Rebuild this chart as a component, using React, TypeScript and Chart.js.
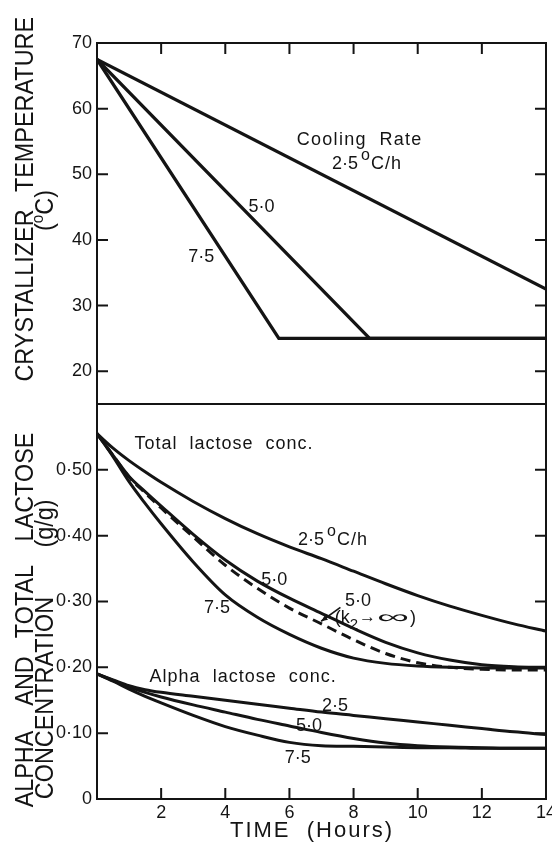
import React, { useEffect, useRef } from 'react';
import { Chart, registerables } from 'chart.js';

Chart.register(...registerables);

const INK = '#141414';
const FONT = '"Liberation Sans", Arial, Helvetica, sans-serif';

// ---------- Top panel: crystallizer temperature (°C) ----------
const tempHours25 = [0, 14];
const temp25 = [67.5, 32.5];
const tempHours50 = [0, 8.5, 14];
const temp50 = [67.5, 25, 25];
const tempHours75 = [0, 5.67, 14];
const temp75 = [67.5, 25, 25];

// ---------- Bottom panel: concentrations (g/g) ----------
const concHours = [0, 0.5, 1, 1.5, 2, 3, 4, 5, 6, 7, 8, 9, 10, 11, 12, 13, 14];
const total25 = [0.555, 0.533, 0.514, 0.497, 0.481, 0.452, 0.426, 0.403, 0.383, 0.365, 0.346, 0.327, 0.309, 0.293, 0.279, 0.266, 0.255];
const total50 = [0.555, 0.522, 0.490, 0.467, 0.445, 0.402, 0.363, 0.331, 0.305, 0.282, 0.259, 0.238, 0.222, 0.211, 0.204, 0.201, 0.200];
const total50kInf = [0.555, 0.522, 0.489, 0.465, 0.442, 0.398, 0.355, 0.320, 0.290, 0.266, 0.242, 0.221, 0.207, 0.200, 0.197, 0.196, 0.196];
const total75 = [0.555, 0.520, 0.482, 0.449, 0.418, 0.360, 0.310, 0.276, 0.250, 0.229, 0.214, 0.206, 0.202, 0.200, 0.199, 0.199, 0.199];
const alpha25 = [0.190, 0.181, 0.172, 0.166, 0.162, 0.156, 0.150, 0.144, 0.138, 0.132, 0.127, 0.122, 0.117, 0.112, 0.107, 0.102, 0.098];
const alpha50 = [0.190, 0.180, 0.170, 0.162, 0.155, 0.143, 0.132, 0.121, 0.111, 0.101, 0.092, 0.085, 0.081, 0.079, 0.078, 0.077, 0.077];
const alpha75 = [0.190, 0.179, 0.167, 0.156, 0.146, 0.127, 0.110, 0.097, 0.086, 0.081, 0.080, 0.079, 0.078, 0.078, 0.077, 0.077, 0.077];

// ---------- Ticks ----------
const timeTicks = [0, 2, 4, 6, 8, 10, 12, 14];
const tempTicks = [20, 30, 40, 50, 60, 70];
const concTicks = [0, 0.1, 0.2, 0.3, 0.4, 0.5];
const concTickLabels = ['0', '0·10', '0·20', '0·30', '0·40', '0·50'];

type Piece = { s: string; size?: number; dy?: number; sx?: number; ls?: number; gap?: number };
type Note = { axis: 'yT' | 'yC'; t: number; v: number; align: 'left' | 'center'; pieces: Piece[] };

const degPieces = (n: string): Piece[] => [
  { s: n, gap: 3 },
  { s: 'o', size: 16, dy: -9, gap: 1 },
  { s: 'C/h', ls: 1 },
];

const NOTES: Note[] = [
  { axis: 'yT', t: 8.19, v: 54.45, align: 'center', pieces: [{ s: 'Cooling  Rate', ls: 1.3 }] },
  { axis: 'yT', t: 8.42, v: 50.8, align: 'center', pieces: degPieces('2·5') },
  { axis: 'yT', t: 5.13, v: 44.2, align: 'center', pieces: [{ s: '5·0' }] },
  { axis: 'yT', t: 3.25, v: 36.6, align: 'center', pieces: [{ s: '7·5' }] },
  { axis: 'yC', t: 1.17, v: 0.532, align: 'left', pieces: [{ s: 'Total  lactose  conc.', ls: 1 }] },
  { axis: 'yC', t: 7.36, v: 0.386, align: 'center', pieces: degPieces('2·5') },
  { axis: 'yC', t: 5.53, v: 0.325, align: 'center', pieces: [{ s: '5·0' }] },
  { axis: 'yC', t: 8.14, v: 0.293, align: 'center', pieces: [{ s: '5·0' }] },
  {
    axis: 'yC', t: 7.41, v: 0.267, align: 'left', pieces: [
      { s: '(k', gap: 0 },
      { s: '2', size: 15, dy: 6, gap: 1 },
      { s: '→', size: 17, dy: -1, gap: 1 },
      { s: '∞', sx: 2.5, gap: 1 },
      { s: ')' },
    ],
  },
  { axis: 'yC', t: 3.74, v: 0.282, align: 'center', pieces: [{ s: '7·5' }] },
  { axis: 'yC', t: 1.64, v: 0.178, align: 'left', pieces: [{ s: 'Alpha  lactose  conc.', ls: 1 }] },
  { axis: 'yC', t: 7.42, v: 0.134, align: 'center', pieces: [{ s: '2·5' }] },
  { axis: 'yC', t: 6.61, v: 0.104, align: 'center', pieces: [{ s: '5·0' }] },
  { axis: 'yC', t: 6.26, v: 0.055, align: 'center', pieces: [{ s: '7·5' }] },
];

// arrow from the "(k2→∞)" label to the dashed curve (hours, g/g)
const ARROW = { from: [7.59, 0.291], to: [6.99, 0.27] };

function drawPieces(ctx: CanvasRenderingContext2D, pieces: Piece[], x: number, y: number, align: 'left' | 'center', base: number) {
  const widths = pieces.map((p) => {
    ctx.font = `${p.size ?? base}px ${FONT}`;
    (ctx as any).letterSpacing = `${p.ls ?? 0}px`;
    return ctx.measureText(p.s).width * (p.sx ?? 1) + (p.gap ?? 0);
  });
  const total = widths.reduce((a, b) => a + b, 0);
  let cx = align === 'center' ? x - total / 2 : x;
  ctx.textAlign = 'left';
  ctx.textBaseline = 'alphabetic';
  pieces.forEach((p, i) => {
    ctx.font = `${p.size ?? base}px ${FONT}`;
    (ctx as any).letterSpacing = `${p.ls ?? 0}px`;
    ctx.save();
    ctx.translate(cx, y + (p.dy ?? 0));
    ctx.scale(p.sx ?? 1, 1);
    ctx.fillText(p.s, 0, 0);
    ctx.restore();
    cx += widths[i];
  });
  (ctx as any).letterSpacing = '0px';
}

function drawRotated(ctx: CanvasRenderingContext2D, pieces: Piece[], baseX: number, centerY: number, size: number, sx: number) {
  ctx.save();
  ctx.translate(baseX, centerY);
  ctx.rotate(-Math.PI / 2);
  ctx.scale(sx, 1);
  drawPieces(ctx, pieces, 0, 0, 'center', size);
  ctx.restore();
}

const framePlugin = {
  id: 'frame',
  afterDatasetsDraw(chart: any) {
    const ctx: CanvasRenderingContext2D = chart.ctx;
    const x = chart.scales.x;
    const yT = chart.scales.yT;
    const yC = chart.scales.yC;
    const L = x.left;
    const R = x.right;
    ctx.save();
    ctx.strokeStyle = INK;
    ctx.fillStyle = INK;
    ctx.lineWidth = 2;
    ctx.strokeRect(L, yT.top, R - L, yT.bottom - yT.top);
    ctx.strokeRect(L, yC.top, R - L, yC.bottom - yC.top);
    const TL = 11;
    ctx.beginPath();
    for (const v of timeTicks) {
      if (v <= 0 || v >= 14) continue;
      const px = x.getPixelForValue(v);
      ctx.moveTo(px, yT.top);
      ctx.lineTo(px, yT.top + TL);
      ctx.moveTo(px, yC.bottom);
      ctx.lineTo(px, yC.bottom - TL);
    }
    for (const v of tempTicks) {
      if (v >= 70) continue;
      const py = yT.getPixelForValue(v);
      ctx.moveTo(L, py);
      ctx.lineTo(L + TL, py);
      ctx.moveTo(R, py);
      ctx.lineTo(R - TL, py);
    }
    for (const v of concTicks) {
      if (v <= 0) continue;
      const py = yC.getPixelForValue(v);
      ctx.moveTo(L, py);
      ctx.lineTo(L + TL, py);
      ctx.moveTo(R, py);
      ctx.lineTo(R - TL, py);
    }
    ctx.stroke();

    // in-plot labels
    for (const n of NOTES) {
      const sc = n.axis === 'yT' ? yT : yC;
      drawPieces(ctx, n.pieces, x.getPixelForValue(n.t), sc.getPixelForValue(n.v), n.align, 18);
    }

    // arrow
    const ax0 = x.getPixelForValue(ARROW.from[0]);
    const ay0 = yC.getPixelForValue(ARROW.from[1]);
    const ax1 = x.getPixelForValue(ARROW.to[0]);
    const ay1 = yC.getPixelForValue(ARROW.to[1]);
    ctx.lineWidth = 1.6;
    ctx.beginPath();
    ctx.moveTo(ax0, ay0);
    ctx.lineTo(ax1, ay1);
    ctx.stroke();
    const ang = Math.atan2(ay1 - ay0, ax1 - ax0);
    ctx.beginPath();
    ctx.moveTo(ax1, ay1);
    ctx.lineTo(ax1 - 7 * Math.cos(ang - 0.4), ay1 - 7 * Math.sin(ang - 0.4));
    ctx.lineTo(ax1 - 7 * Math.cos(ang + 0.4), ay1 - 7 * Math.sin(ang + 0.4));
    ctx.closePath();
    ctx.fill();

    // axis titles
    const S = 26;
    const SX = 0.9;
    drawRotated(ctx, [{ s: 'TEMPERATURE' }], 33, 104.5, S, SX);
    drawRotated(ctx, [{ s: 'CRYSTALLIZER' }], 33, 295.5, S, SX);
    drawRotated(ctx, [{ s: '(' }, { s: 'o', size: 17, dy: -10 }, { s: 'C)' }], 53, 210.5, S, SX);
    drawRotated(ctx, [{ s: 'ALPHA' }], 33, 769, S, SX);
    drawRotated(ctx, [{ s: 'AND' }], 33, 681, S, SX);
    drawRotated(ctx, [{ s: 'TOTAL' }], 33, 601.5, S, SX);
    drawRotated(ctx, [{ s: 'LACTOSE' }], 33, 487, S, SX);
    drawRotated(ctx, [{ s: 'CONCENTRATION' }], 53, 698, S, SX);
    drawRotated(ctx, [{ s: '(g/g)' }], 53, 523.5, S, SX);

    drawPieces(ctx, [{ s: 'TIME  (Hours)', ls: 2 }], 312, 837, 'center', 22);
    ctx.restore();
  },
};

export default function App() {
  const ref = useRef<HTMLCanvasElement>(null);
  useEffect(() => {
    const canvas = ref.current;
    if (!canvas) return;
    const pts = (xs: number[], ys: number[]) => xs.map((t, i) => ({ x: t, y: ys[i] }));
    const line = (data: any[], axis: string, width: number, dash: number[] = [], smooth = true) => ({
      data,
      yAxisID: axis,
      borderColor: INK,
      backgroundColor: INK,
      borderWidth: width,
      borderDash: dash,
      pointRadius: 0,
      fill: false,
      tension: smooth ? 0.4 : 0,
      cubicInterpolationMode: smooth ? 'monotone' : 'default',
    });
    const tickFont = { family: FONT, size: 18 };
    const chart = new Chart(canvas, {
      type: 'line',
      data: {
        datasets: [
          line(pts(tempHours25, temp25), 'yT', 3.3, [], false),
          line(pts(tempHours50, temp50), 'yT', 3.3, [], false),
          line(pts(tempHours75, temp75), 'yT', 3.3, [], false),
          line(pts(concHours, total25), 'yC', 3),
          line(pts(concHours, total50), 'yC', 3),
          line(pts(concHours, total50kInf), 'yC', 3, [10, 6]),
          line(pts(concHours, total75), 'yC', 3),
          line(pts(concHours, alpha25), 'yC', 3),
          line(pts(concHours, alpha50), 'yC', 3),
          line(pts(concHours, alpha75), 'yC', 3),
        ] as any,
      },
      options: {
        responsive: false,
        animation: false,
        devicePixelRatio: 1,
        layout: { padding: { top: 43, right: 6, left: 0, bottom: 0 } },
        plugins: { legend: { display: false }, tooltip: { enabled: false } },
        scales: {
          x: {
            type: 'linear',
            min: 0,
            max: 14,
            afterBuildTicks: (s: any) => { s.ticks = timeTicks.map((v) => ({ value: v })); },
            ticks: {
              callback: (v: any) => (v === 0 ? '' : String(v)),
              font: tickFont,
              color: INK,
              padding: 3,
              maxRotation: 0,
              autoSkip: false,
            },
            grid: { display: false, drawTicks: false },
            border: { display: false },
            afterFit: (s: any) => { s.height = 51; s.paddingLeft = 0; s.paddingRight = 0; },
          },
          yC: {
            type: 'linear',
            position: 'left',
            stack: 'panels',
            stackWeight: 395,
            weight: 0,
            min: 0,
            max: 0.6,
            afterBuildTicks: (s: any) => { s.ticks = concTicks.map((v) => ({ value: v })); },
            ticks: {
              callback: (v: any) => concTickLabels[concTicks.findIndex((c) => Math.abs(c - v) < 1e-6)] ?? '',
              font: tickFont,
              color: INK,
              padding: 5,
            },
            grid: { display: false, drawTicks: false },
            border: { display: false },
            afterFit: (s: any) => { s.width = 97; },
          },
          yT: {
            type: 'linear',
            position: 'left',
            stack: 'panels',
            stackWeight: 361,
            weight: 1,
            min: 15,
            max: 70,
            afterBuildTicks: (s: any) => { s.ticks = tempTicks.map((v) => ({ value: v })); },
            ticks: {
              callback: (v: any) => String(v),
              font: tickFont,
              color: INK,
              padding: 5,
            },
            grid: { display: false, drawTicks: false },
            border: { display: false },
            afterFit: (s: any) => { s.width = 97; },
          },
        },
      } as any,
      plugins: [framePlugin as any],
    });
    return () => chart.destroy();
  }, []);
  return (
    <div style={{ position: 'absolute', left: 0, top: 0, width: 552, height: 850, background: '#fff' }}>
      <canvas ref={ref} width={552} height={850} style={{ width: 552, height: 850, display: 'block' }} />
    </div>
  );
}
